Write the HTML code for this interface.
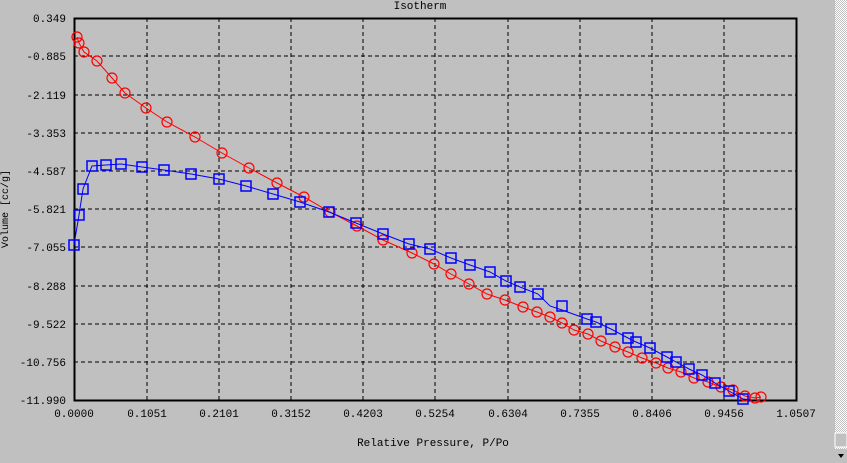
<!DOCTYPE html><html><head><style>body{margin:0;background:#c0c0c0;}svg{display:block}text{font-family:"Liberation Mono",monospace;font-size:11px;fill:#000}</style></head><body>
<svg width="847" height="463" xmlns="http://www.w3.org/2000/svg">
<defs><pattern id="chk" width="2" height="2" patternUnits="userSpaceOnUse"><rect width="2" height="2" fill="#fff"/><rect width="1" height="1" fill="#c0c0c0"/><rect x="1" y="1" width="1" height="1" fill="#c0c0c0"/></pattern></defs>
<rect width="847" height="463" fill="#c0c0c0"/>
<rect x="835" y="0" width="12" height="463" fill="url(#chk)"/>
<rect x="835" y="433" width="12" height="14" fill="#c0c0c0" stroke="#fff" stroke-width="1"/>
<rect x="835" y="449" width="12" height="14" fill="#c0c0c0"/>
<polygon points="838,454 844,454 841,458" fill="#000"/>
<text x="420" y="9" text-anchor="middle">Isotherm</text>
<g stroke="#000" stroke-dasharray="4,3" stroke-width="1">
<line x1="147" y1="18" x2="147" y2="400"/><line x1="219" y1="18" x2="219" y2="400"/><line x1="291" y1="18" x2="291" y2="400"/><line x1="363" y1="18" x2="363" y2="400"/><line x1="435" y1="18" x2="435" y2="400"/><line x1="508" y1="18" x2="508" y2="400"/><line x1="580" y1="18" x2="580" y2="400"/><line x1="652" y1="18" x2="652" y2="400"/><line x1="724" y1="18" x2="724" y2="400"/>
<line x1="74" y1="56" x2="796" y2="56"/><line x1="74" y1="95" x2="796" y2="95"/><line x1="74" y1="133" x2="796" y2="133"/><line x1="74" y1="171" x2="796" y2="171"/><line x1="74" y1="209" x2="796" y2="209"/><line x1="74" y1="247" x2="796" y2="247"/><line x1="74" y1="286" x2="796" y2="286"/><line x1="74" y1="324" x2="796" y2="324"/><line x1="74" y1="362" x2="796" y2="362"/>
</g>
<rect x="74.5" y="18.5" width="722" height="382" fill="none" stroke="#000" stroke-width="2"/>
<g text-anchor="end"><text x="66" y="22">0.349</text><text x="66" y="60">-0.885</text><text x="66" y="99">-2.119</text><text x="66" y="137">-3.353</text><text x="66" y="175">-4.587</text><text x="66" y="213">-5.821</text><text x="66" y="251">-7.055</text><text x="66" y="290">-8.288</text><text x="66" y="328">-9.522</text><text x="66" y="366">-10.756</text><text x="66" y="404">-11.990</text></g>
<g text-anchor="middle"><text x="74" y="417">0.0000</text><text x="147" y="417">0.1051</text><text x="219" y="417">0.2101</text><text x="291" y="417">0.3152</text><text x="363" y="417">0.4203</text><text x="435" y="417">0.5254</text><text x="508" y="417">0.6304</text><text x="580" y="417">0.7355</text><text x="652" y="417">0.8406</text><text x="724" y="417">0.9456</text><text x="796" y="417">1.0507</text>
<text x="433" y="446">Relative Pressure, P/Po</text></g>
<text transform="translate(8,209) rotate(-90)" text-anchor="middle" style="font-size:10px">Volume [cc/g]</text>
<g fill="none" stroke="#f00">
<polyline points="77,37 79,43 84,52 97,61 112,78 125,93 146,108 167,122 195,137 222,153 249,168 277,183 304,197 330,212 357,226 383,240 412,253 434,264 451,274 469,284 487,294 505,300 523,307 537,312 550,317 562,323 574,330 588,334 601,341 615,347 628,352 642,358 656,363 668,368 681,372 694,378 708,382 721,387 733,390 745,396 755,398 761,397"/>
<g stroke-width="1.2">
<circle cx="77" cy="37" r="5"/><circle cx="79" cy="43" r="5"/><circle cx="84" cy="52" r="5"/><circle cx="97" cy="61" r="5"/><circle cx="112" cy="78" r="5"/><circle cx="125" cy="93" r="5"/><circle cx="146" cy="108" r="5"/><circle cx="167" cy="122" r="5"/><circle cx="195" cy="137" r="5"/><circle cx="222" cy="153" r="5"/><circle cx="249" cy="168" r="5"/><circle cx="277" cy="183" r="5"/><circle cx="304" cy="197" r="5"/><circle cx="330" cy="212" r="5"/><circle cx="357" cy="226" r="5"/><circle cx="383" cy="240" r="5"/><circle cx="412" cy="253" r="5"/><circle cx="434" cy="264" r="5"/><circle cx="451" cy="274" r="5"/><circle cx="469" cy="284" r="5"/><circle cx="487" cy="294" r="5"/><circle cx="505" cy="300" r="5"/><circle cx="523" cy="307" r="5"/><circle cx="537" cy="312" r="5"/><circle cx="550" cy="317" r="5"/><circle cx="562" cy="323" r="5"/><circle cx="574" cy="330" r="5"/><circle cx="588" cy="334" r="5"/><circle cx="601" cy="341" r="5"/><circle cx="615" cy="347" r="5"/><circle cx="628" cy="352" r="5"/><circle cx="642" cy="358" r="5"/><circle cx="656" cy="363" r="5"/><circle cx="668" cy="368" r="5"/><circle cx="681" cy="372" r="5"/><circle cx="694" cy="378" r="5"/><circle cx="708" cy="382" r="5"/><circle cx="721" cy="387" r="5"/><circle cx="733" cy="390" r="5"/><circle cx="745" cy="396" r="5"/><circle cx="755" cy="398" r="5"/><circle cx="761" cy="397" r="5"/>
</g></g>
<g fill="none" stroke="#00f">
<polyline points="74,245 79,215 83,189 92,166 106,165 121,164 142,167 164,170 191,174 219,179 246,186 273,194 300,202 329,212 356,223 383,234 409,244 430,249 451,258 470,265 490,272 506,281 520,287 538,294 550,306 562,310 587,319 596,322 611,329 628,338 636,342 650,348 667,357 676,362 689,369 702,375 715,383 729,391 743,399 752,400"/>
<g stroke-width="1.5">
<rect x="69" y="240" width="10" height="10"/><rect x="74" y="210" width="10" height="10"/><rect x="78" y="184" width="10" height="10"/><rect x="87" y="161" width="10" height="10"/><rect x="101" y="160" width="10" height="10"/><rect x="116" y="159" width="10" height="10"/><rect x="137" y="162" width="10" height="10"/><rect x="159" y="165" width="10" height="10"/><rect x="186" y="169" width="10" height="10"/><rect x="214" y="174" width="10" height="10"/><rect x="241" y="181" width="10" height="10"/><rect x="268" y="189" width="10" height="10"/><rect x="295" y="197" width="10" height="10"/><rect x="324" y="207" width="10" height="10"/><rect x="351" y="218" width="10" height="10"/><rect x="378" y="229" width="10" height="10"/><rect x="404" y="239" width="10" height="10"/><rect x="425" y="244" width="10" height="10"/><rect x="446" y="253" width="10" height="10"/><rect x="465" y="260" width="10" height="10"/><rect x="485" y="267" width="10" height="10"/><rect x="501" y="276" width="10" height="10"/><rect x="515" y="282" width="10" height="10"/><rect x="533" y="289" width="10" height="10"/><rect x="557" y="301" width="10" height="10"/><rect x="582" y="314" width="10" height="10"/><rect x="591" y="317" width="10" height="10"/><rect x="606" y="324" width="10" height="10"/><rect x="623" y="333" width="10" height="10"/><rect x="631" y="337" width="10" height="10"/><rect x="645" y="343" width="10" height="10"/><rect x="662" y="352" width="10" height="10"/><rect x="671" y="357" width="10" height="10"/><rect x="684" y="364" width="10" height="10"/><rect x="697" y="370" width="10" height="10"/><rect x="710" y="378" width="10" height="10"/><rect x="724" y="386" width="10" height="10"/><rect x="738" y="394" width="10" height="10"/>
</g></g>
</svg></body></html>
